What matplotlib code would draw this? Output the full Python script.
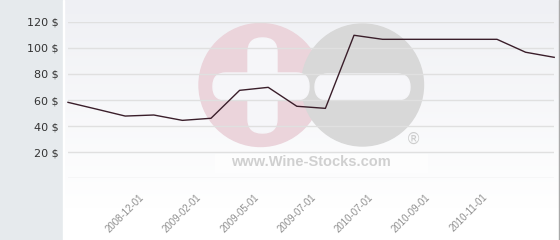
import numpy as np
import matplotlib
matplotlib.use('Agg')
import matplotlib.pyplot as plt
from matplotlib.patches import Rectangle, Circle, FancyBboxPatch

# price per month ($), one value per point on the category axis
prices = [58.2, 53.0, 47.7, 48.5, 44.4, 46.0, 67.4, 69.7, 55.2, 53.6,
          109.6, 106.5, 106.5, 106.5, 106.5, 106.5, 96.6, 92.7]
# only every second point carries a date label
date_labels = ['', '', '2008-12-01', '', '2009-02-01', '', '2009-05-01', '',
               '2009-07-01', '', '2010-07-01', '', '2010-09-01', '',
               '2010-11-01', '', '', '']
y_ticks = [0, 20, 40, 60, 80, 100, 120]
y_labels = ['' if v == 0 else f'{v} $' for v in y_ticks]

W, H = 560, 240
fig = plt.figure(figsize=(W / 100, H / 100), dpi=100)

# background layer in pixel units
bg = fig.add_axes([0, 0, 1, 1], zorder=0)
bg.set_xlim(0, W)
bg.set_ylim(H, 0)
bg.axis('off')

grad = np.clip(np.linspace(0, 1.15, 120), 0, 1).reshape(-1, 1)
top = np.array([0xef, 0xf0, 0xf4]) / 255
bot = np.array([0xff, 0xff, 0xff]) / 255
img = top + (bot - top) * grad[..., None]
bg.imshow(img, extent=(63, W, H, 0), aspect='auto', zorder=0)
bg.add_patch(Rectangle((0, 0), 62.5, H, color='#e6eaed', zorder=1))
bg.add_patch(Rectangle((62.5, 0), 1, H, color='white', zorder=1))
bg.add_patch(Rectangle((558.5, 0), 1.5, H, color='#a9a9a9', zorder=1))

# watermark logo
pink, grey, hole = '#ebd4db', '#d8d8d8', '#f6f6f9'
bg.add_patch(Circle((260.5, 85), 61.5, color=pink, zorder=2))
bg.add_patch(Circle((362.5, 85), 61, color=grey, zorder=2))
bg.add_patch(FancyBboxPatch((248, 38), 29, 95, boxstyle='round,pad=0,rounding_size=14',
                            color=hole, zorder=3))
bg.add_patch(FancyBboxPatch((213, 73), 96, 27, boxstyle='round,pad=0,rounding_size=13',
                            color=hole, zorder=3))
bg.add_patch(FancyBboxPatch((315, 74), 95, 26, boxstyle='round,pad=0,rounding_size=13',
                            color=hole, zorder=3))
bg.add_patch(Rectangle((215, 154), 212, 18, color='white', alpha=0.55, zorder=3))
bg.text(311, 162, 'www.Wine-Stocks.com', color='#d0d0d0', fontsize=10.5,
        fontweight='bold', family='Liberation Sans', ha='center', va='center', zorder=4)
bg.text(413, 139, '®', color='#cdcdcd', fontsize=11, family='DejaVu Sans',
        ha='center', va='center', zorder=4)

# main chart
ax = fig.add_axes([68 / W, 1 - 178.3 / H, 486.2 / W, 156.6 / H], zorder=1)
ax.patch.set_alpha(0)
x = np.arange(len(prices))
ax.plot(x, prices, color='#3a1e2a', lw=1, zorder=3, clip_on=False)

ax.set_xlim(0, len(prices) - 1)
ax.set_ylim(0, 120)
ax.set_yticks(y_ticks)
ax.set_yticklabels(y_labels, fontsize=8, color='#333333', family='DejaVu Sans')
ax.grid(axis='y', color='#e0e0e0', lw=1)
ax.set_axisbelow(True)

ticks = [i for i, t in enumerate(date_labels) if t]
ax.set_xticks(ticks)
ax.set_xticklabels([date_labels[i] for i in ticks], rotation=45, ha='center',
                   fontsize=7, color='#8f8f8f', family='Liberation Sans')
ax.tick_params(axis='y', length=0, pad=7)
ax.tick_params(axis='x', length=0, pad=10)
for s in ax.spines.values():
    s.set_visible(False)

fig.savefig('out.png', dpi=100)
